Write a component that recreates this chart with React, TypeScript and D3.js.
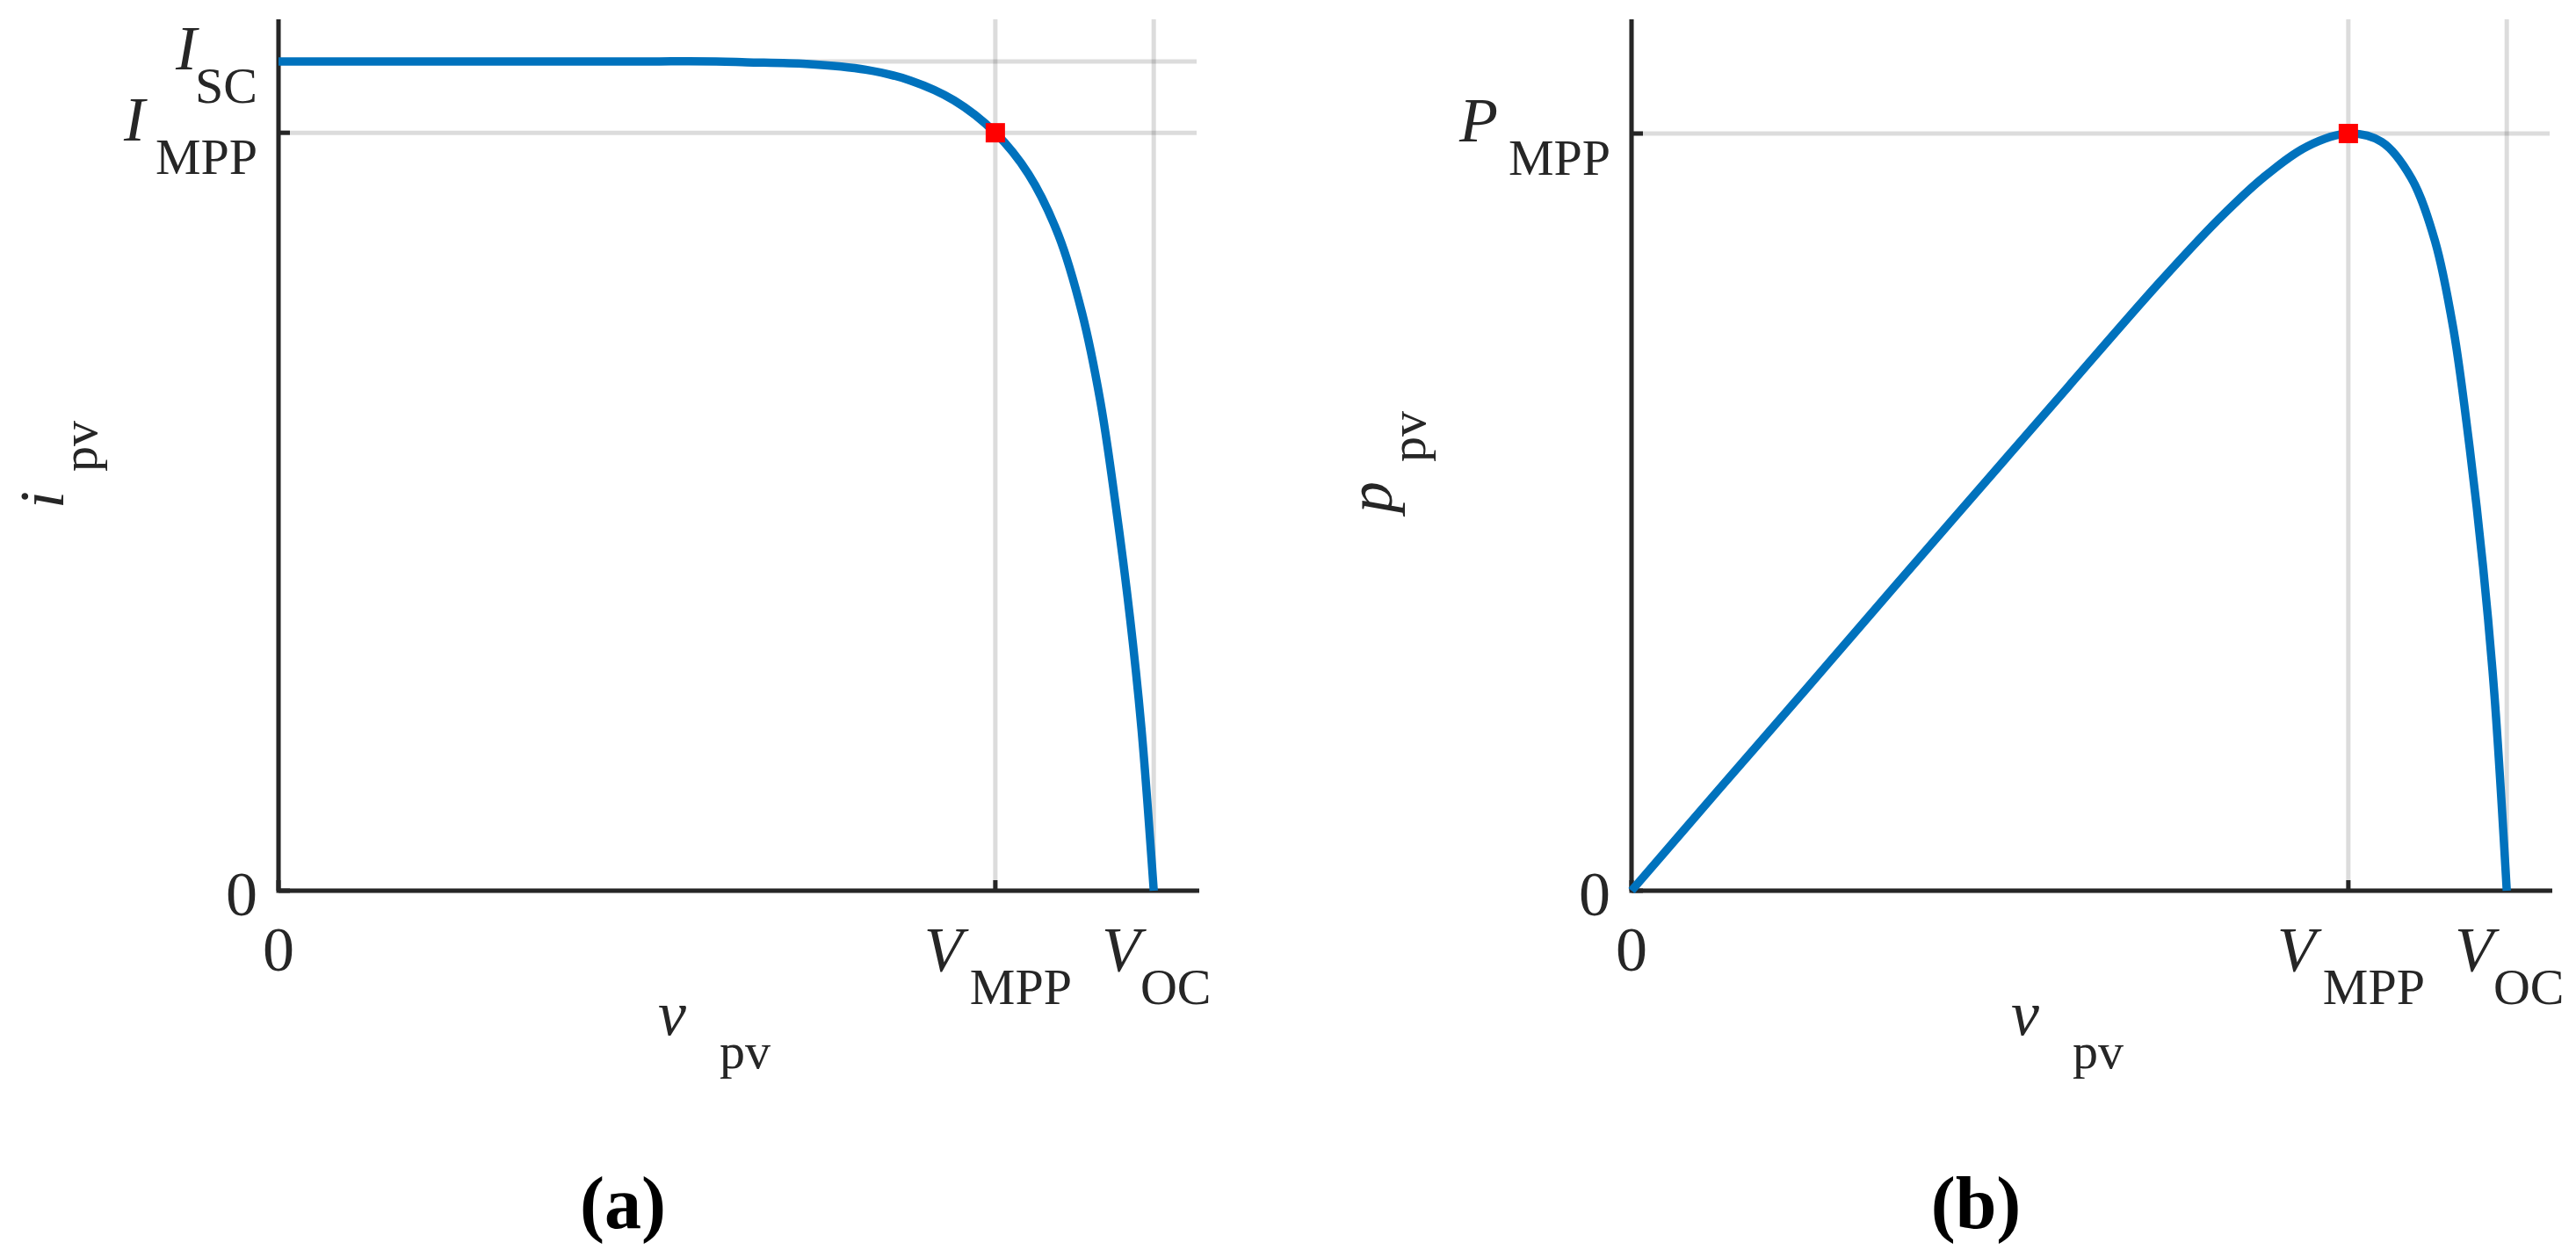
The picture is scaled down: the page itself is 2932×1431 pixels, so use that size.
import React from 'react';
import * as d3 from 'd3';

// ---- data (normalised: V_OC = 1, I_SC = 1, P_MPP = 1) ----
const V_OC = 1.0;
const V_MPP = 0.819;
const I_SC = 1.0;
const I_MPP = 0.914;
const P_MPP = 1.0;

const X_MAX = 1.052;
const I_MAX = 1.0508;
const P_MAX = 1.1508;

// I-V curve
const vIV = [0, 0.1, 0.2, 0.3, 0.4, 0.5, 0.535, 0.603, 0.671, 0.722, 0.772, 0.819, 0.857, 0.891, 0.918, 0.939, 0.956, 0.973, 0.986, 1.0];
const iIV = [1.0, 1.0, 1.0, 1.0, 1.0, 1.0, 0.999, 0.997, 0.99, 0.977, 0.953, 0.914, 0.864, 0.791, 0.697, 0.59, 0.469, 0.328, 0.195, 0.0];

// P-V curve
const vPV = [0, 0.1, 0.2, 0.3, 0.4, 0.5, 0.603, 0.671, 0.722, 0.772, 0.819, 0.857, 0.891, 0.918, 0.939, 0.956, 0.973, 0.986, 1.0];
const pPV = [0, 0.134, 0.267, 0.401, 0.534, 0.667, 0.803, 0.887, 0.942, 0.983, 1.0, 0.989, 0.941, 0.858, 0.742, 0.6, 0.427, 0.257, 0.0];

// ticks and tick labels
type Lbl = { main: string; sub?: string; italic?: boolean };
const xTickValues = [0, V_MPP, V_OC];
const xTickLabels: Lbl[] = [
  { main: '0' },
  { main: 'V', sub: 'MPP', italic: true },
  { main: 'V', sub: 'OC', italic: true },
];
const yTickValuesA = [0, I_MPP, I_SC];
const yTickLabelsA: Lbl[] = [
  { main: '0' },
  { main: 'I', sub: 'MPP', italic: true },
  { main: 'I', sub: 'SC', italic: true },
];
const yTickValuesB = [0, P_MPP];
const yTickLabelsB: Lbl[] = [
  { main: '0' },
  { main: 'P', sub: 'MPP', italic: true },
];
const xAxisLabel: Lbl = { main: 'v', sub: 'pv', italic: true };
const yAxisLabelA: Lbl = { main: 'i', sub: 'pv', italic: true };
const yAxisLabelB: Lbl = { main: 'p', sub: 'pv', italic: true };
const captions = ['(a)', '(b)'];

// ---- styling ----
const FONT = '"Liberation Serif", "Times New Roman", serif';
const TEXT = '#262626';
const W = 2932;
const H = 1431;
const TOP = 22;
const BOTTOM = 1014;
const PW = 1048;

function Label({ x, y, anchor, lbl, transform, subDx = 4 }: any) {
  return (
    <text x={x} y={y} textAnchor={anchor} transform={transform} fontFamily={FONT} fontSize={72} fill={TEXT}>
      <tspan fontStyle={lbl.italic ? 'italic' : 'normal'}>{lbl.main}</tspan>
      {lbl.sub ? (
        <tspan fontSize={58} dx={subDx} dy={38}>
          {lbl.sub}
        </tspan>
      ) : null}
    </text>
  );
}

function Panel({ ox, yMax, yTicks, yLabels, vData, yData, markerY, yAxisLabel, yLabelX, yLabelY, caption }: any) {
  const x = d3.scaleLinear().domain([0, X_MAX]).range([ox, ox + PW]);
  const y = d3.scaleLinear().domain([0, yMax]).range([BOTTOM, TOP]);
  const line = d3
    .line<number>()
    .x((_, i) => x(vData[i]))
    .y((d) => y(d))
    .curve(d3.curveCatmullRom.alpha(0.5));
  const grid = { stroke: TEXT, strokeOpacity: 0.16, strokeWidth: 5 };
  const labelCx = ox + 504;
  return (
    <g>
      {xTickValues.map((t, i) => (
        <line key={'gx' + i} x1={x(t)} x2={x(t)} y1={TOP} y2={BOTTOM} {...grid} />
      ))}
      {yTicks.map((t: number, i: number) => (
        <line key={'gy' + i} x1={ox} x2={ox + PW - 3} y1={y(t)} y2={y(t)} {...grid} />
      ))}
      {xTickValues.map((t, i) => (
        <line key={'tx' + i} x1={x(t)} x2={x(t)} y1={BOTTOM} y2={BOTTOM - 12} stroke={TEXT} strokeWidth={5} />
      ))}
      {yTicks.map((t: number, i: number) => (
        <line key={'ty' + i} x1={ox} x2={ox + 13} y1={y(t)} y2={y(t)} stroke={TEXT} strokeWidth={5} />
      ))}
      <path d={`M${ox},${TOP}V${BOTTOM}H${ox + PW}`} fill="none" stroke={TEXT} strokeWidth={5} />
      <path d={line(yData) || ''} fill="none" stroke="#0072BD" strokeWidth={9.5} strokeLinejoin="round" />
      <rect x={x(V_MPP) - 11} y={y(markerY) - 11} width={22} height={22} fill="#ff0000" />
      {xTickValues.map((t, i) => (
        <Label key={'lx' + i} x={x(t) + (i === 0 ? 0 : 3)} y={1105} anchor="middle" lbl={xTickLabels[i]} subDx={i === 1 ? 8 : 0} />
      ))}
      {yTicks.map((t: number, i: number) =>
        i === 0 ? (
          <text key={'ly' + i} x={ox - 24} y={y(t) + 28} textAnchor="end" fontFamily={FONT} fontSize={72} fill={TEXT}>
            {yLabels[i].main}
          </text>
        ) : (
          <Label key={'ly' + i} x={ox - 24} y={y(t) + 9} anchor="end" lbl={yLabels[i]} subDx={yLabels[i].sub === 'MPP' ? 12 : -2} />
        )
      )}
      <Label x={labelCx - 8} y={1178} anchor="middle" lbl={xAxisLabel} subDx={38} />
      <Label x={0} y={0} anchor="middle" lbl={yAxisLabel} subDx={22} transform={`translate(${yLabelX},${yLabelY}) rotate(-90)`} />
      <text x={ox + 392} y={1398} textAnchor="middle" fontFamily={FONT} fontSize={84} fontWeight="bold" fill="#000">
        {caption}
      </text>
    </g>
  );
}

export default function App() {
  return (
    <svg width={W} height={H} style={{ position: 'absolute', left: 0, top: 0, background: '#fff' }}>
      <rect x={0} y={0} width={W} height={H} fill="#fff" />
      <Panel
        ox={317}
        yMax={I_MAX}
        yTicks={yTickValuesA}
        yLabels={yTickLabelsA}
        vData={vIV}
        yData={iIV}
        markerY={I_MPP}
        yAxisLabel={yAxisLabelA}
        yLabelX={72}
        yLabelY={529}
        caption={captions[0]}
      />
      <Panel
        ox={1857}
        yMax={P_MAX}
        yTicks={yTickValuesB}
        yLabels={yTickLabelsB}
        vData={vPV}
        yData={pPV}
        markerY={P_MPP}
        yAxisLabel={yAxisLabelB}
        yLabelX={1584}
        yLabelY={526}
        caption={captions[1]}
      />
    </svg>
  );
}
